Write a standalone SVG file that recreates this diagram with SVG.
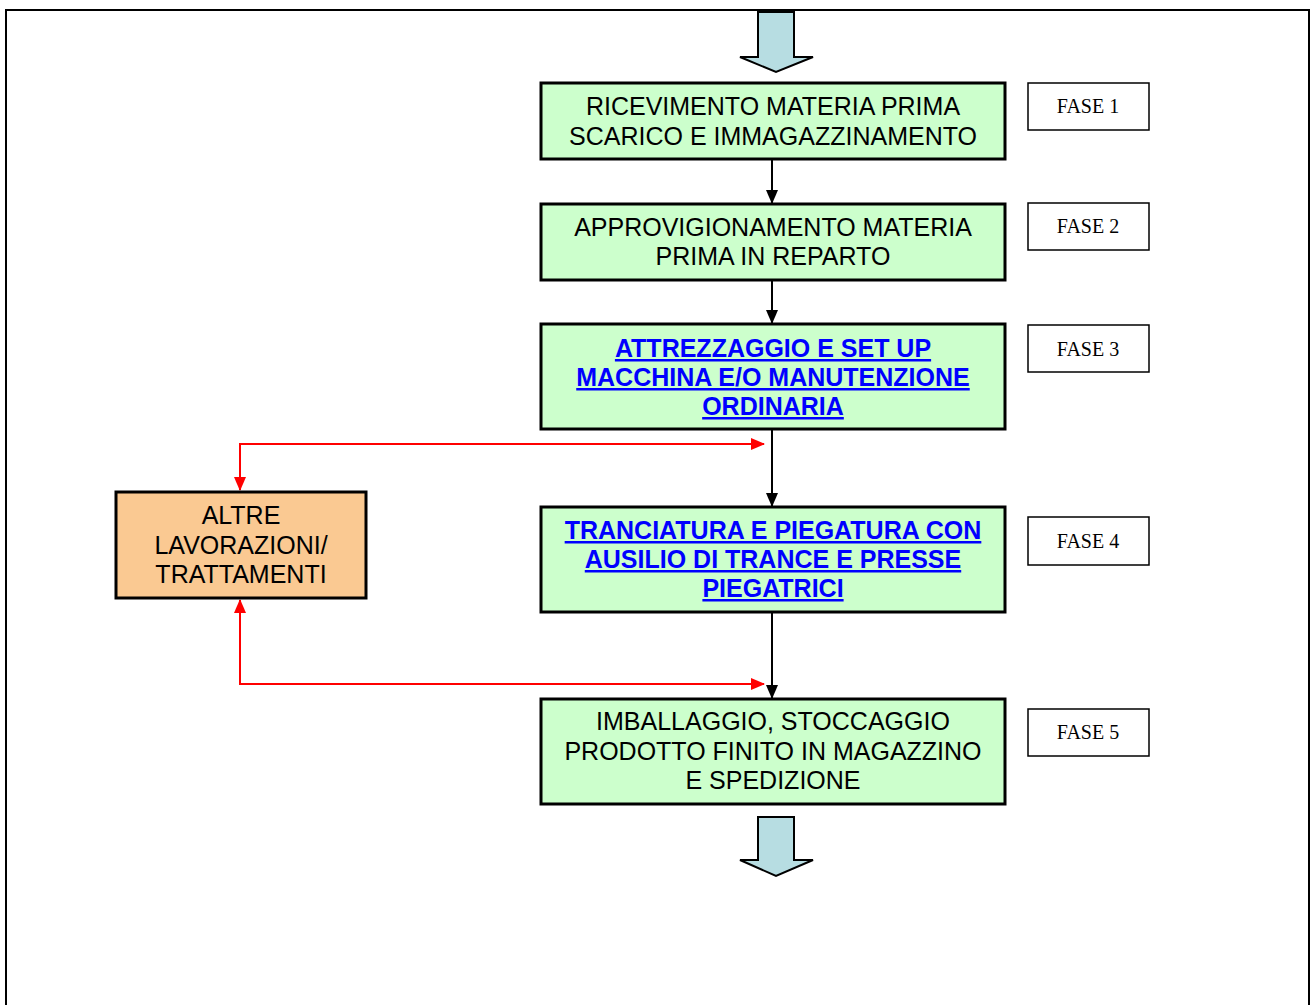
<svg xmlns="http://www.w3.org/2000/svg" width="1311" height="1005" viewBox="0 0 1311 1005">
<style>
.box{fill:#ccffcc;stroke:#000;stroke-width:3}
.alt{fill:#fac992;stroke:#000;stroke-width:3}
.fase{fill:#fff;stroke:#000;stroke-width:1.5}
.t{font-family:"Liberation Sans",Arial,sans-serif;font-size:25px;fill:#000;text-anchor:middle}
.b{font-family:"Liberation Sans",Arial,sans-serif;font-size:25px;font-weight:bold;fill:#0000ff;text-anchor:middle;text-decoration:underline}
.f{font-family:"Liberation Serif","Times New Roman",serif;font-size:20px;fill:#000;text-anchor:middle}
.big{fill:#b7dde2;stroke:#000;stroke-width:2}
.k{stroke:#000;stroke-width:2;fill:none}
.r{stroke:#ff0000;stroke-width:2;fill:none}
</style>
<defs>
<marker id="ak" markerWidth="14" markerHeight="12" refX="13" refY="6" orient="auto" markerUnits="userSpaceOnUse"><path d="M0,0 L14,6 L0,12 Z" fill="#000"/></marker>
<marker id="ar" markerWidth="14" markerHeight="12" refX="13" refY="6" orient="auto-start-reverse" markerUnits="userSpaceOnUse"><path d="M0,0 L14,6 L0,12 Z" fill="#ff0000"/></marker>
</defs>
<rect x="6" y="10" width="1303" height="1010" fill="#fff" stroke="#000" stroke-width="2"/>
<g id="arrow-top"><path class="big" d="M758,12 H794 V57 H813 L776,72 L740,57 H758 Z"/></g>
<g id="arrow-bottom"><path class="big" d="M758,817 H794 V860 H813 L776,876 L740,860 H758 Z"/></g>
<g id="connectors">
<line class="k" x1="772" y1="159" x2="772" y2="203" marker-end="url(#ak)"/>
<line class="k" x1="772" y1="280" x2="772" y2="323" marker-end="url(#ak)"/>
<line class="k" x1="772" y1="429" x2="772" y2="506" marker-end="url(#ak)"/>
<line class="k" x1="772" y1="612" x2="772" y2="698" marker-end="url(#ak)"/>
<polyline class="r" points="240,490 240,444 764,444" marker-start="url(#ar)" marker-end="url(#ar)"/>
<polyline class="r" points="240,600 240,684 764,684" marker-start="url(#ar)" marker-end="url(#ar)"/>
</g>
<g id="n1"><rect class="box" x="541" y="83" width="464" height="76"/>
<text class="t" x="773" y="115">RICEVIMENTO MATERIA PRIMA</text>
<text class="t" x="773" y="145">SCARICO E IMMAGAZZINAMENTO</text></g>
<g id="f1"><rect class="fase" x="1028" y="83" width="121" height="47"/><text class="f" x="1088" y="113">FASE 1</text></g>
<g id="n2"><rect class="box" x="541" y="204" width="464" height="76"/>
<text class="t" x="773" y="236">APPROVIGIONAMENTO MATERIA</text>
<text class="t" x="773" y="265">PRIMA IN REPARTO</text></g>
<g id="f2"><rect class="fase" x="1028" y="203" width="121" height="47"/><text class="f" x="1088" y="233">FASE 2</text></g>
<g id="n3"><rect class="box" x="541" y="324" width="464" height="105"/>
<text class="b" x="773" y="357">ATTREZZAGGIO E SET UP</text>
<text class="b" x="773" y="386">MACCHINA E/O MANUTENZIONE</text>
<text class="b" x="773" y="415">ORDINARIA</text></g>
<g id="f3"><rect class="fase" x="1028" y="325" width="121" height="47"/><text class="f" x="1088" y="356">FASE 3</text></g>
<g id="n4"><rect class="box" x="541" y="507" width="464" height="105"/>
<text class="b" x="773" y="539">TRANCIATURA E PIEGATURA CON</text>
<text class="b" x="773" y="568">AUSILIO DI TRANCE E PRESSE</text>
<text class="b" x="773" y="597">PIEGATRICI</text></g>
<g id="f4"><rect class="fase" x="1028" y="517" width="121" height="48"/><text class="f" x="1088" y="548">FASE 4</text></g>
<g id="n5"><rect class="box" x="541" y="699" width="464" height="105"/>
<text class="t" x="773" y="730">IMBALLAGGIO, STOCCAGGIO</text>
<text class="t" x="773" y="760">PRODOTTO FINITO IN MAGAZZINO</text>
<text class="t" x="773" y="789">E SPEDIZIONE</text></g>
<g id="f5"><rect class="fase" x="1028" y="709" width="121" height="47"/><text class="f" x="1088" y="739">FASE 5</text></g>
<g id="alt"><rect class="alt" x="116" y="492" width="250" height="106"/>
<text class="t" x="241" y="524">ALTRE</text>
<text class="t" x="241" y="554">LAVORAZIONI/</text>
<text class="t" x="241" y="583">TRATTAMENTI</text></g>
</svg>
